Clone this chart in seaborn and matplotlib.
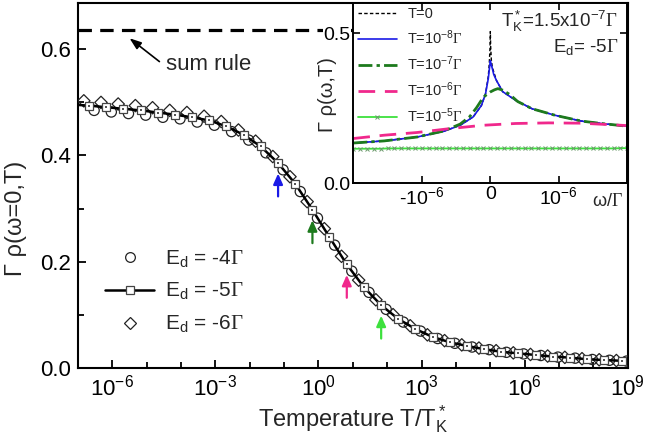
import numpy as np
import matplotlib
matplotlib.use("Agg")
import matplotlib.pyplot as plt
from matplotlib.lines import Line2D
from matplotlib.ticker import FixedLocator, NullFormatter, LogFormatterSciNotation
import seaborn as sns

sns.set_theme(style="ticks")
plt.rcParams["font.family"] = ["Liberation Sans", "DejaVu Sans"]
plt.rcParams["mathtext.fontset"] = "custom"
plt.rcParams["mathtext.rm"] = "Liberation Sans"
plt.rcParams["mathtext.it"] = "Liberation Sans:italic"
plt.rcParams["mathtext.bf"] = "Liberation Sans:bold"
plt.rcParams["mathtext.sf"] = "Liberation Sans"
plt.rcParams["mathtext.tt"] = "Liberation Serif"
plt.rcParams["axes.unicode_minus"] = False

G = r"$\mathtt{\Gamma}$"

# ---- main panel: rho(0,T) vs T/T_K* for three level energies ----
logx_e5 = [-7.18, -6.68, -6.18, -5.68, -5.18, -4.68, -4.18, -3.68, -3.18, -2.68, -2.18,
           -1.68, -1.18, -0.68, -0.18, 0.32, 0.82, 1.32, 1.82, 2.32, 2.82,
           3.32, 3.82, 4.32, 4.82, 5.32, 5.82, 6.32, 6.82, 7.32, 7.82, 8.32, 8.82]
rho_e5 = [0.496, 0.494, 0.491, 0.488, 0.485, 0.481, 0.477, 0.472, 0.466, 0.455, 0.439,
          0.417, 0.386, 0.347, 0.298, 0.246, 0.195, 0.152, 0.118, 0.092, 0.073,
          0.058, 0.048, 0.041, 0.035, 0.030, 0.027, 0.024, 0.021, 0.019, 0.016, 0.0145, 0.013]

logx_e4 = [-6.53, -6.03, -5.53, -5.03, -4.53, -4.03, -3.53, -3.03, -2.53, -2.03,
           -1.53, -1.03, -0.53, -0.03, 0.47, 0.97, 1.47, 1.97, 2.47, 2.97,
           3.47, 3.97, 4.47, 4.97, 5.47, 5.97, 6.47, 6.97, 7.47, 7.97, 8.47, 8.97]
rho_e4 = [0.485, 0.482, 0.479, 0.476, 0.472, 0.469, 0.463, 0.457, 0.445, 0.429,
          0.405, 0.373, 0.332, 0.282, 0.231, 0.182, 0.142, 0.110, 0.086, 0.069,
          0.055, 0.046, 0.039, 0.034, 0.029, 0.026, 0.023, 0.020, 0.018, 0.0155, 0.014, 0.0125]

logx_e6 = [-6.83, -6.33, -5.83, -5.33, -4.83, -4.33, -3.83, -3.33, -2.83, -2.33,
           -1.83, -1.33, -0.83, -0.33, 0.17, 0.67, 1.17, 1.67, 2.17, 2.67,
           3.17, 3.67, 4.17, 4.67, 5.17, 5.67, 6.17, 6.67, 7.17, 7.67, 8.17, 8.67]
rho_e6 = [0.503, 0.500, 0.497, 0.494, 0.490, 0.485, 0.481, 0.474, 0.464, 0.448,
          0.427, 0.398, 0.360, 0.313, 0.262, 0.210, 0.165, 0.128, 0.100, 0.079,
          0.062, 0.051, 0.043, 0.037, 0.032, 0.028, 0.025, 0.022, 0.0195, 0.017, 0.015, 0.0135]

sum_rule = 2 / np.pi
TK = 1.5e-7
arrow_T = [1e-8, 1e-7, 1e-6, 1e-5]
arrow_colors = ["#1a1ae6", "#1d7a1d", "#f0288c", "#3de03d"]

legend_main = ["-4", "-5", "-6"]

# ---- inset: rho(omega, T) near the Fermi level, E_d = -5 Gamma ----
w_T0 = [-2.0, -1.55, -1.07, -0.68, -0.44, -0.25, -0.13, -0.07, -0.03, -0.015, -0.005,
        0.0, 0.005, 0.015, 0.03, 0.09, 0.18, 0.37, 0.61, 0.95, 1.33, 1.62, 2.0]
r_T0 = [0.134, 0.141, 0.154, 0.173, 0.193, 0.221, 0.259, 0.298, 0.355, 0.40, 0.45,
        0.505, 0.455, 0.41, 0.385, 0.342, 0.305, 0.276, 0.248, 0.226, 0.207, 0.199, 0.190]

w_T8 = [-2.0, -1.55, -1.07, -0.68, -0.44, -0.25, -0.13, -0.07, -0.03, 0.0,
        0.01, 0.03, 0.05, 0.09, 0.18, 0.37, 0.61, 0.95, 1.33, 1.62, 2.0]
r_T8 = [0.134, 0.141, 0.154, 0.173, 0.193, 0.221, 0.259, 0.298, 0.348, 0.408,
        0.398, 0.381, 0.362, 0.342, 0.305, 0.276, 0.248, 0.226, 0.207, 0.199, 0.190]

w_T7 = [-2.0, -1.55, -1.07, -0.68, -0.44, -0.30, -0.20, -0.10, 0.0, 0.06, 0.11,
        0.18, 0.28, 0.40, 0.61, 0.95, 1.33, 1.62, 2.0]
r_T7 = [0.134, 0.141, 0.154, 0.174, 0.197, 0.222, 0.252, 0.287, 0.304, 0.311, 0.315,
        0.310, 0.296, 0.272, 0.248, 0.226, 0.207, 0.199, 0.190]

w_T6 = [-2.0, -1.55, -1.07, -0.59, -0.11, 0.37, 0.85, 1.33, 2.0]
r_T6 = [0.149, 0.160, 0.169, 0.182, 0.193, 0.199, 0.201, 0.200, 0.192]

w_T5 = [-2.0, -1.9, -1.8, -1.7, -1.6, -1.5, -1.4, -1.3, -1.2, -1.1, -1.0,
        -0.9, -0.8, -0.7, -0.6, -0.5, -0.4, -0.3, -0.2, -0.1, 0.0,
        0.1, 0.2, 0.3, 0.4, 0.5, 0.6, 0.7, 0.8, 0.9, 1.0,
        1.1, 1.2, 1.3, 1.4, 1.5, 1.6, 1.7, 1.8, 1.9, 2.0]
r_T5 = [0.115, 0.115, 0.115, 0.115, 0.115, 0.116, 0.116, 0.116, 0.116, 0.116, 0.116,
        0.116, 0.116, 0.116, 0.116, 0.116, 0.116, 0.116, 0.116, 0.116, 0.116,
        0.116, 0.116, 0.116, 0.116, 0.116, 0.116, 0.116, 0.116, 0.116, 0.116,
        0.116, 0.116, 0.116, 0.116, 0.116, 0.116, 0.116, 0.116, 0.117, 0.117]

inset_labels = ["T=0", "T=10$^{-8}$" + G, "T=10$^{-7}$" + G, "T=10$^{-6}$" + G, "T=10$^{-5}$" + G]

# ================= figure =================
fig = plt.figure(figsize=(6.45, 4.41), dpi=100)
ax = fig.add_axes([0.1209, 0.1662, 0.8523, 0.8277])
ax.set_xscale("log")

x5 = 10 ** np.asarray(logx_e5)
x4 = 10 ** np.asarray(logx_e4)
x6 = 10 ** np.asarray(logx_e6)

sns.scatterplot(x=x6, y=rho_e6, marker="D", s=40, facecolor="none",
                edgecolor="#222222", linewidth=0.9, ax=ax, zorder=3, legend=False)
sns.scatterplot(x=x4, y=rho_e4, marker="o", s=54, facecolor="none",
                edgecolor="#222222", linewidth=0.9, ax=ax, zorder=3, legend=False)
sns.lineplot(x=x5, y=rho_e5, color="black", lw=1.8, ax=ax, zorder=4,
             marker="s", markersize=6, markerfacecolor="white",
             markeredgecolor="#444444", markeredgewidth=0.9, sort=True, estimator=None)
sns.scatterplot(x=x5, y=rho_e5, marker="s", s=2, color="#555555", linewidth=0,
                ax=ax, zorder=5, legend=False)

ax.axhline(sum_rule, color="black", lw=2.3, ls=(0, (4.2, 2.6)), zorder=2)
ax.annotate("", xy=(10 ** -5.5, 0.621), xytext=(10 ** -4.63, 0.577),
            arrowprops=dict(arrowstyle="-|>,head_length=0.5,head_width=0.18",
                            mutation_scale=14, color="black", lw=1.2,
                            shrinkA=0, shrinkB=0))
ax.text(10 ** -4.43, 0.571, "sum rule", fontsize=16, ha="left", va="center")

for T, c in zip(arrow_T, arrow_colors):
    xr = T / TK
    yv = np.interp(np.log10(xr), logx_e5, rho_e5)
    ax.annotate("", xy=(xr, yv), xytext=(0, -24), textcoords="offset points",
                arrowprops=dict(arrowstyle="-|>,head_length=0.45,head_width=0.2",
                                mutation_scale=14, color=c, lw=1.6,
                                shrinkA=0, shrinkB=7.5))

ax.set_xlim(1e-7, 1e9)
ax.set_ylim(0, 0.688)
ax.xaxis.set_major_locator(FixedLocator([1e-6, 1e-3, 1e0, 1e3, 1e6, 1e9]))
ax.xaxis.set_major_formatter(LogFormatterSciNotation())
ax.xaxis.set_minor_locator(FixedLocator([10.0 ** k for k in range(-7, 10)]))
ax.xaxis.set_minor_formatter(NullFormatter())
ax.set_yticks([0.0, 0.2, 0.4, 0.6])
ax.set_yticklabels(["0.0", "0.2", "0.4", "0.6"])
ax.yaxis.set_minor_locator(FixedLocator([0.1, 0.3, 0.5]))
ax.tick_params(which="both", direction="in", top=False, right=False,
               labelsize=16, width=1.3, colors="black", pad=5)
ax.tick_params(which="major", length=6)
ax.tick_params(which="minor", length=4.5)
for s in ax.spines.values():
    s.set_linewidth(1.5)
    s.set_color("black")

ax.set_xlabel(r"Temperature T/T$\mathregular{^*_K}$", fontsize=17, labelpad=2)
ax.set_ylabel("Γ ρ(ω=0,T)", fontsize=17)
ax.yaxis.set_label_coords(-0.093, 0.41)

handles = [
    Line2D([], [], ls="none", marker="o", ms=7, mfc="none", mec="#222222", mew=0.9),
    Line2D([], [], color="black", lw=1.8, marker="s", ms=6, mfc="white", mec="#444444", mew=0.9),
    Line2D([], [], ls="none", marker="D", ms=6, mfc="none", mec="#222222", mew=0.9),
]
labels = [r"E$\mathregular{_d}$ = " + v + G for v in legend_main]
ax.legend(handles, labels, loc="center left", bbox_to_anchor=(0.05, 0.208),
          frameon=False, fontsize=15, handlelength=2.35, handletextpad=0.5,
          labelspacing=0.55, borderpad=0, borderaxespad=0)

# ================= inset =================
axin = fig.add_axes([0.5478, 0.5844, 0.4248, 0.4088])
axin.set_facecolor("white")
sc = 1e-6
sns.lineplot(x=np.asarray(w_T0) * sc, y=r_T0, color="black", lw=1.0,
             ls=(0, (2.5, 1.6)), ax=axin, sort=False, estimator=None, label=inset_labels[0])
sns.lineplot(x=np.asarray(w_T8) * sc, y=r_T8, color="#1a1ae6", lw=1.2,
             ax=axin, sort=False, estimator=None, label=inset_labels[1])
sns.lineplot(x=np.asarray(w_T7) * sc, y=r_T7, color="#1d7a1d", lw=2.0,
             ls=(0, (5, 1.5, 1.2, 1.5)), ax=axin, sort=False, estimator=None, label=inset_labels[2])
sns.lineplot(x=np.asarray(w_T6) * sc, y=r_T6, color="#f0288c", lw=2.0,
             ls=(0, (6, 3.5)), ax=axin, sort=False, estimator=None, label=inset_labels[3])
sns.lineplot(x=np.asarray(w_T5) * sc, y=r_T5, color="#3de03d", lw=1.3,
             marker="x", markersize=3, markeredgecolor="#6a9a6a", markeredgewidth=0.7,
             ax=axin, sort=False, estimator=None, label=inset_labels[4])

axin.set_xlim(-2e-6, 2e-6)
axin.set_ylim(0, 0.6)
axin.set_xticks([-1e-6, 0, 1e-6])
axin.set_xticklabels(["-10$^{-6}$", "0", "10$^{-6}$"])
axin.set_yticks([0.0, 0.5])
axin.set_yticklabels(["0.0", "0.5"])
axin.tick_params(direction="in", top=True, right=True, length=5, width=1.2,
                 labelsize=14, pad=2, colors="black")
for lab in axin.get_yticklabels():
    lab.set_bbox(dict(facecolor="white", edgecolor="none", pad=0.5))
for s in axin.spines.values():
    s.set_linewidth(1.4)
    s.set_color("black")
axin.set_ylabel("Γ ρ(ω,T)", fontsize=14.5, labelpad=1)
axin.yaxis.set_label_coords(-0.06, 0.49)
axin.set_xlabel("")
axin.text(0.984, -0.10, "ω/" + G, transform=axin.transAxes, ha="right", va="center",
          fontsize=13)

axin.legend(loc="upper left", bbox_to_anchor=(0.0, 1.0), frameon=False, fontsize=10.5,
            handlelength=2.7, handletextpad=0.7, labelspacing=0.5, borderpad=0.2,
            borderaxespad=0.1)

axin.text(0.966, 0.896, r"T$\mathregular{^*_K}$=1.5x10$^{-7}$" + G, transform=axin.transAxes,
          ha="right", va="center", fontsize=13.5)
axin.text(0.966, 0.758, r"E$\mathregular{_d}$= -5" + G, transform=axin.transAxes,
          ha="right", va="center", fontsize=13.5)

fig.savefig("out.png", dpi=100)
